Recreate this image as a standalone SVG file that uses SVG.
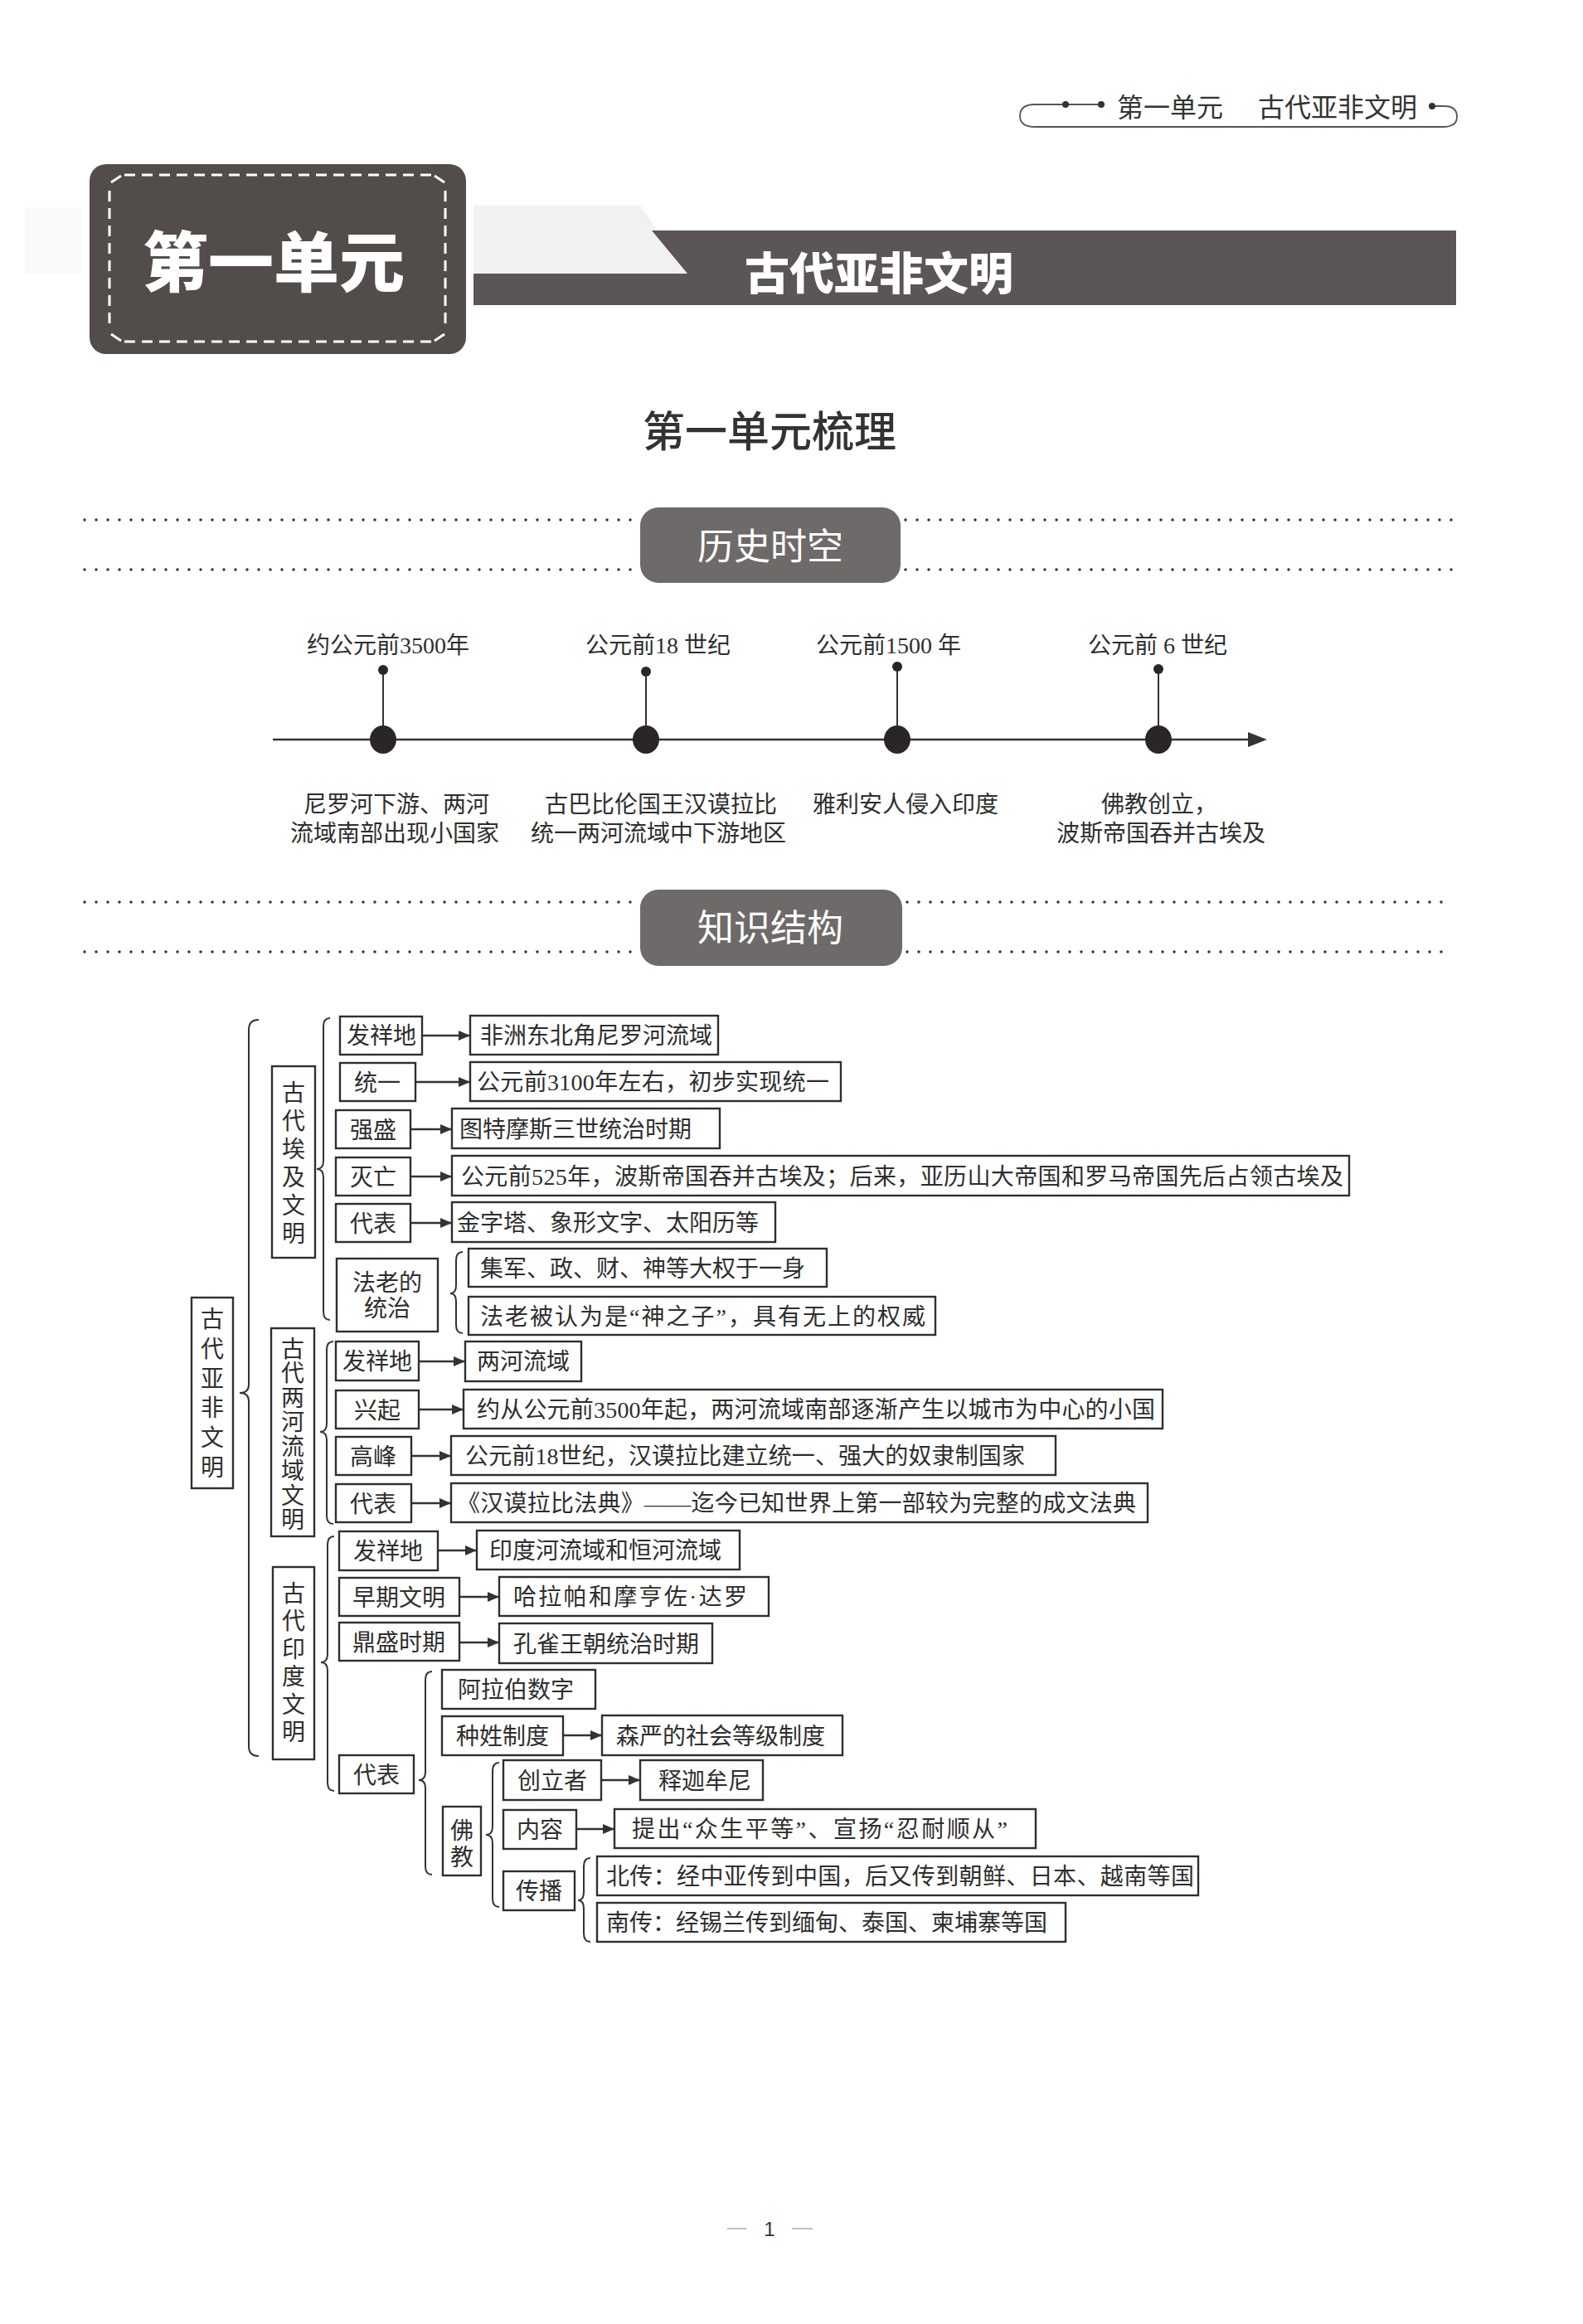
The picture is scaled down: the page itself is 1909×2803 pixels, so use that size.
<svg xmlns="http://www.w3.org/2000/svg" width="1909" height="2803" viewBox="0 0 1909 2803">
<style>
.bx{fill:#fff;stroke:#2f2f2f;stroke-width:2.4}
.t{font-family:"Liberation Serif","Noto Sans CJK SC",serif;font-size:28px;fill:#2e2e2e}
.tc{text-anchor:middle}
.br{fill:none;stroke:#333;stroke-width:2}
.ar{stroke:#333;stroke-width:2.5;fill:none}
.hs{font-family:"Noto Sans CJK SC","Noto Sans",sans-serif}
.dot{stroke:#333;stroke-width:3.5;stroke-linecap:round;stroke-dasharray:0 14;fill:none}
.badge{fill:#6e6a69}
.bt{font-family:"Noto Sans CJK SC",sans-serif;font-size:44px;fill:#fff;text-anchor:middle}
.wd{stroke:#fff;stroke-width:3;fill:none;stroke-dasharray:13 8}
</style>
<defs>
<marker id="ah" markerWidth="14" markerHeight="12" refX="13" refY="6" orient="auto" markerUnits="userSpaceOnUse"><path d="M0,0 L14,6 L0,12 z" fill="#333"/></marker>
</defs>
<rect x="0" y="0" width="1909" height="2803" fill="#fff"/>

<!-- running header -->
<g id="running-header">
<path d="M1285,126 L1248,126 Q1230,126 1230,140 Q1230,153 1248,153 L1740,153 Q1757,153 1757,141 Q1757,128 1742,128 L1727,128" fill="none" stroke="#555" stroke-width="1.8"/>
<line x1="1285" y1="126" x2="1328" y2="126" stroke="#555" stroke-width="1.8"/>
<circle cx="1285" cy="126" r="4" fill="#333"/>
<circle cx="1328" cy="126" r="4" fill="#333"/>
<circle cx="1727" cy="128" r="4" fill="#333"/>
<text class="hs" x="1347" y="141" font-size="32" fill="#333">第一单元</text>
<text class="hs" x="1517" y="141" font-size="32" fill="#333">古代亚非文明</text>
</g>

<!-- unit banner -->
<g id="unit-banner">
<rect x="30" y="250" width="68" height="80" fill="#fbf9f9"/>
<polygon points="571,248 772,248 829,330 571,330" fill="#f2f1f1"/>
<polygon points="786,278 1756,278 1756,368 571,368 571,330 829,330" fill="#5b5655"/>
<rect x="108" y="198" width="454" height="229" rx="20" fill="#524d4b"/>
<line class="wd" x1="150" y1="211" x2="522" y2="211"/>
<line class="wd" x1="150" y1="412" x2="522" y2="412"/>
<line class="wd" x1="132" y1="230" x2="132" y2="396"/>
<line class="wd" x1="537" y1="230" x2="537" y2="396"/>
<path d="M134,220 L146,212 M524,212 L536,220 M134,403 L146,411 M524,411 L536,403" fill="none" stroke="#fff" stroke-width="3"/>
<text class="hs" x="330" y="346" font-size="79" font-weight="900" fill="#fff" text-anchor="middle">第一单元</text>
<text class="hs" x="1060" y="350" font-size="54" font-weight="900" fill="#fff" text-anchor="middle">古代亚非文明</text>
</g>

<text id="section-title" class="hs" x="928" y="539" font-size="51" font-weight="500" fill="#333" text-anchor="middle">第一单元梳理</text>

<!-- badge 1 -->
<g id="badge-history">
<line class="dot" x1="102" y1="627" x2="765" y2="627"/>
<line class="dot" x1="1092" y1="627" x2="1752" y2="627"/>
<line class="dot" x1="102" y1="687" x2="765" y2="687"/>
<line class="dot" x1="1092" y1="687" x2="1752" y2="687"/>
<rect class="badge" x="772" y="612" width="314" height="91" rx="22"/>
<text class="bt" x="929" y="675">历史时空</text>
</g>

<!-- timeline -->
<g id="timeline">
<line x1="329" y1="892" x2="1510" y2="892" stroke="#333" stroke-width="2.5"/>
<polygon points="1528,892 1505,883 1505,901" fill="#333"/>
<g id="tl-1">
<line x1="462" y1="808" x2="462" y2="892" stroke="#333" stroke-width="2"/>
<circle cx="462" cy="808" r="6" fill="#2b2626"/>
<ellipse cx="462" cy="892" rx="16" ry="17" fill="#2b2626"/>
<text class="t" x="370" y="788">约公元前3500年</text>
<text class="t" x="366" y="980">尼罗河下游、两河</text>
<text class="t" x="350" y="1015">流域南部出现小国家</text>
</g>
<g id="tl-2">
<line x1="779" y1="810" x2="779" y2="892" stroke="#333" stroke-width="2"/>
<circle cx="779" cy="810" r="6" fill="#2b2626"/>
<ellipse cx="779" cy="892" rx="16" ry="17" fill="#2b2626"/>
<text class="t" x="706" y="788">公元前18 世纪</text>
<text class="t" x="657" y="980">古巴比伦国王汉谟拉比</text>
<text class="t" x="640" y="1015">统一两河流域中下游地区</text>
</g>
<g id="tl-3">
<line x1="1082" y1="804" x2="1082" y2="892" stroke="#333" stroke-width="2"/>
<circle cx="1082" cy="804" r="6" fill="#2b2626"/>
<ellipse cx="1082" cy="892" rx="16" ry="17" fill="#2b2626"/>
<text class="t" x="984" y="788">公元前1500 年</text>
<text class="t" x="980" y="980">雅利安人侵入印度</text>
</g>
<g id="tl-4">
<line x1="1397" y1="807" x2="1397" y2="892" stroke="#333" stroke-width="2"/>
<circle cx="1397" cy="807" r="6" fill="#2b2626"/>
<ellipse cx="1397" cy="892" rx="16" ry="17" fill="#2b2626"/>
<text class="t" x="1312" y="788">公元前 6 世纪</text>
<text class="t" x="1328" y="980">佛教创立，</text>
<text class="t" x="1274" y="1015">波斯帝国吞并古埃及</text>
</g>
</g>

<!-- badge 2 -->
<g id="badge-structure">
<line class="dot" x1="102" y1="1088" x2="765" y2="1088"/>
<line class="dot" x1="1094" y1="1088" x2="1752" y2="1088"/>
<line class="dot" x1="102" y1="1148" x2="765" y2="1148"/>
<line class="dot" x1="1094" y1="1148" x2="1752" y2="1148"/>
<rect class="badge" x="772" y="1073" width="316" height="92" rx="22"/>
<text class="bt" x="929" y="1135">知识结构</text>
</g>

<!-- connectors -->
<g id="connectors">
<path class="br" d="M312,1230 Q300,1230 300,1242 L300,1670 Q300,1680 289,1680 Q300,1680 300,1690 L300,2106 Q300,2118 312,2118"/>
<path class="br" d="M398,1228 Q390,1228 390,1238 L390,1400 Q390,1410 382,1410 Q390,1410 390,1420 L390,1582 Q390,1592 398,1592"/>
<path class="br" d="M402,1618 Q394,1618 394,1628 L394,1717 Q394,1727 386,1727 Q394,1727 394,1737 L394,1828 Q394,1838 402,1838"/>
<path class="br" d="M403,1853 Q395,1853 395,1863 L395,1995 Q395,2005 387,2005 Q395,2005 395,2015 L395,2150 Q395,2160 403,2160"/>
<path class="br" d="M558,1510 Q550,1510 550,1520 L550,1550 Q550,1560 543,1560 Q550,1560 550,1570 L550,1598 Q550,1608 558,1608"/>
<path class="br" d="M521,2016 Q513,2016 513,2026 L513,2137 Q513,2147 505,2147 Q513,2147 513,2157 L513,2251 Q513,2261 521,2261"/>
<path class="br" d="M602,2126 Q594,2126 594,2136 L594,2203 Q594,2213 586,2213 Q594,2213 594,2223 L594,2290 Q594,2300 602,2300"/>
<path class="br" d="M712,2241 Q704,2241 704,2251 L704,2282 Q704,2292 697,2292 Q704,2292 704,2302 L704,2332 Q704,2342 712,2342"/>
<line class="ar" x1="509" y1="1249" x2="566" y2="1249" marker-end="url(#ah)"/>
<line class="ar" x1="501" y1="1305" x2="566" y2="1305" marker-end="url(#ah)"/>
<line class="ar" x1="495" y1="1362" x2="544" y2="1362" marker-end="url(#ah)"/>
<line class="ar" x1="495" y1="1419" x2="544" y2="1419" marker-end="url(#ah)"/>
<line class="ar" x1="495" y1="1475" x2="544" y2="1475" marker-end="url(#ah)"/>
<line class="ar" x1="505" y1="1642" x2="560" y2="1642" marker-end="url(#ah)"/>
<line class="ar" x1="505" y1="1700" x2="558" y2="1700" marker-end="url(#ah)"/>
<line class="ar" x1="496" y1="1756" x2="543" y2="1756" marker-end="url(#ah)"/>
<line class="ar" x1="496" y1="1813" x2="543" y2="1813" marker-end="url(#ah)"/>
<line class="ar" x1="528" y1="1870" x2="574" y2="1870" marker-end="url(#ah)"/>
<line class="ar" x1="554" y1="1926" x2="601" y2="1926" marker-end="url(#ah)"/>
<line class="ar" x1="554" y1="1981" x2="601" y2="1981" marker-end="url(#ah)"/>
<line class="ar" x1="679" y1="2093" x2="725" y2="2093" marker-end="url(#ah)"/>
<line class="ar" x1="725" y1="2147" x2="771" y2="2147" marker-end="url(#ah)"/>
<line class="ar" x1="695" y1="2206" x2="740" y2="2206" marker-end="url(#ah)"/>
</g>

<!-- root -->
<g id="n-root">
<rect class="bx" x="231" y="1565" width="50" height="230"/>
<text class="t tc" font-size="29"><tspan x="256" y="1601">古</tspan><tspan x="256" y="1637">代</tspan><tspan x="256" y="1673">亚</tspan><tspan x="256" y="1708">非</tspan><tspan x="256" y="1744">文</tspan><tspan x="256" y="1780">明</tspan></text>
</g>

<!-- Egypt -->
<g id="n-egypt">
<rect class="bx" x="328" y="1286" width="52" height="231"/>
<text class="t tc" font-size="29"><tspan x="354" y="1328">古</tspan><tspan x="354" y="1362">代</tspan><tspan x="354" y="1396">埃</tspan><tspan x="354" y="1430">及</tspan><tspan x="354" y="1464">文</tspan><tspan x="354" y="1498">明</tspan></text>
</g>
<g id="n-e1"><rect class="bx" x="410" y="1226" width="99" height="46"/><text class="t tc" x="460" y="1259">发祥地</text></g>
<g id="n-e1t"><rect class="bx" x="567" y="1225" width="299" height="47"/><text class="t" x="579" y="1259">非洲东北角尼罗河流域</text></g>
<g id="n-e2"><rect class="bx" x="410" y="1282" width="91" height="46"/><text class="t tc" x="455" y="1316">统一</text></g>
<g id="n-e2t"><rect class="bx" x="567" y="1281" width="447" height="47"/><text class="t" x="575" y="1315" textLength="425">公元前3100年左右，初步实现统一</text></g>
<g id="n-e3"><rect class="bx" x="405" y="1339" width="90" height="46"/><text class="t tc" x="450" y="1373">强盛</text></g>
<g id="n-e3t"><rect class="bx" x="545" y="1337" width="323" height="48"/><text class="t" x="554" y="1372">图特摩斯三世统治时期</text></g>
<g id="n-e4"><rect class="bx" x="405" y="1396" width="90" height="46"/><text class="t tc" x="450" y="1430">灭亡</text></g>
<g id="n-e4t"><rect class="bx" x="545" y="1394" width="1082" height="48"/><text class="t" x="556" y="1429" textLength="1064">公元前525年，波斯帝国吞并古埃及；后来，亚历山大帝国和罗马帝国先后占领古埃及</text></g>
<g id="n-e5"><rect class="bx" x="405" y="1452" width="90" height="46"/><text class="t tc" x="450" y="1486">代表</text></g>
<g id="n-e5t"><rect class="bx" x="545" y="1450" width="390" height="48"/><text class="t" x="551" y="1485">金字塔、象形文字、太阳历等</text></g>
<g id="n-e6"><rect class="bx" x="406" y="1518" width="122" height="88"/><text class="t tc"><tspan x="467" y="1557">法老的</tspan><tspan x="467" y="1588">统治</tspan></text></g>
<g id="n-e6a"><rect class="bx" x="565" y="1506" width="432" height="46"/><text class="t" x="579" y="1540">集军、政、财、神等大权于一身</text></g>
<g id="n-e6b"><rect class="bx" x="565" y="1564" width="563" height="46"/><text class="t" x="579" y="1598" textLength="537">法老被认为是“神之子”，具有无上的权威</text></g>

<!-- Two rivers -->
<g id="n-meso">
<rect class="bx" x="327" y="1602" width="52" height="251"/>
<text class="t tc" font-size="27"><tspan x="353" y="1637">古</tspan><tspan x="353" y="1666">代</tspan><tspan x="353" y="1696">两</tspan><tspan x="353" y="1725">河</tspan><tspan x="353" y="1755">流</tspan><tspan x="353" y="1784">域</tspan><tspan x="353" y="1814">文</tspan><tspan x="353" y="1843">明</tspan></text>
</g>
<g id="n-m1"><rect class="bx" x="405" y="1618" width="100" height="47"/><text class="t tc" x="455" y="1652">发祥地</text></g>
<g id="n-m1t"><rect class="bx" x="561" y="1618" width="140" height="48"/><text class="t" x="575" y="1652">两河流域</text></g>
<g id="n-m2"><rect class="bx" x="405" y="1677" width="100" height="46"/><text class="t tc" x="455" y="1711">兴起</text></g>
<g id="n-m2t"><rect class="bx" x="559" y="1676" width="843" height="47"/><text class="t" x="575" y="1710" textLength="818">约从公元前3500年起，两河流域南部逐渐产生以城市为中心的小国</text></g>
<g id="n-m3"><rect class="bx" x="405" y="1733" width="91" height="46"/><text class="t tc" x="450" y="1767">高峰</text></g>
<g id="n-m3t"><rect class="bx" x="544" y="1732" width="729" height="47"/><text class="t" x="561" y="1766" textLength="675">公元前18世纪，汉谟拉比建立统一、强大的奴隶制国家</text></g>
<g id="n-m4"><rect class="bx" x="405" y="1790" width="91" height="46"/><text class="t tc" x="450" y="1824">代表</text></g>
<g id="n-m4t"><rect class="bx" x="544" y="1789" width="840" height="47"/><text class="t" x="551" y="1823" textLength="819">《汉谟拉比法典》——迄今已知世界上第一部较为完整的成文法典</text></g>

<!-- India -->
<g id="n-india">
<rect class="bx" x="329" y="1890" width="50" height="232"/>
<text class="t tc" font-size="29"><tspan x="354" y="1932">古</tspan><tspan x="354" y="1965">代</tspan><tspan x="354" y="1999">印</tspan><tspan x="354" y="2032">度</tspan><tspan x="354" y="2066">文</tspan><tspan x="354" y="2099">明</tspan></text>
</g>
<g id="n-i1"><rect class="bx" x="409" y="1847" width="119" height="47"/><text class="t tc" x="468" y="1881">发祥地</text></g>
<g id="n-i1t"><rect class="bx" x="575" y="1846" width="317" height="47"/><text class="t" x="590" y="1880">印度河流域和恒河流域</text></g>
<g id="n-i2"><rect class="bx" x="409" y="1903" width="145" height="46"/><text class="t tc" x="481" y="1937">早期文明</text></g>
<g id="n-i2t"><rect class="bx" x="602" y="1902" width="325" height="47"/><text class="t" x="619" y="1936" textLength="282">哈拉帕和摩亨佐·达罗</text></g>
<g id="n-i3"><rect class="bx" x="409" y="1957" width="145" height="46"/><text class="t tc" x="481" y="1991">鼎盛时期</text></g>
<g id="n-i3t"><rect class="bx" x="602" y="1958" width="257" height="48"/><text class="t" x="619" y="1993">孔雀王朝统治时期</text></g>
<g id="n-i4"><rect class="bx" x="409" y="2117" width="90" height="46"/><text class="t tc" x="454" y="2151">代表</text></g>
<g id="n-i4a"><rect class="bx" x="533" y="2014" width="185" height="47"/><text class="t" x="552" y="2048">阿拉伯数字</text></g>
<g id="n-i4b"><rect class="bx" x="533" y="2070" width="146" height="47"/><text class="t tc" x="606" y="2104">种姓制度</text></g>
<g id="n-i4bt"><rect class="bx" x="726" y="2069" width="290" height="48"/><text class="t" x="743" y="2104">森严的社会等级制度</text></g>
<g id="n-i4c"><rect class="bx" x="534" y="2179" width="46" height="83"/><text class="t tc"><tspan x="557" y="2218">佛</tspan><tspan x="557" y="2250">教</tspan></text></g>
<g id="n-b1"><rect class="bx" x="607" y="2123" width="118" height="48"/><text class="t tc" x="666" y="2158">创立者</text></g>
<g id="n-b1t"><rect class="bx" x="772" y="2123" width="148" height="48"/><text class="t" x="794" y="2158">释迦牟尼</text></g>
<g id="n-b2"><rect class="bx" x="607" y="2183" width="88" height="47"/><text class="t tc" x="651" y="2217">内容</text></g>
<g id="n-b2t"><rect class="bx" x="741" y="2182" width="508" height="47"/><text class="t" x="762" y="2216" textLength="453">提出“众生平等”、宣扬“忍耐顺从”</text></g>
<g id="n-b3"><rect class="bx" x="607" y="2257" width="86" height="47"/><text class="t tc" x="650" y="2291">传播</text></g>
<g id="n-b3a"><rect class="bx" x="720" y="2239" width="725" height="47"/><text class="t" x="731" y="2273" textLength="709">北传：经中亚传到中国，后又传到朝鲜、日本、越南等国</text></g>
<g id="n-b3b"><rect class="bx" x="720" y="2295" width="565" height="47"/><text class="t" x="731" y="2329">南传：经锡兰传到缅甸、泰国、柬埔寨等国</text></g>

<!-- footer -->
<g id="footer">
<line x1="877" y1="2688" x2="900" y2="2688" stroke="#aaa" stroke-width="1.5"/>
<line x1="955" y1="2688" x2="980" y2="2688" stroke="#aaa" stroke-width="1.5"/>
<text x="928" y="2697" font-family="Liberation Sans, sans-serif" font-size="24" fill="#333" text-anchor="middle">1</text>
</g>
</svg>
